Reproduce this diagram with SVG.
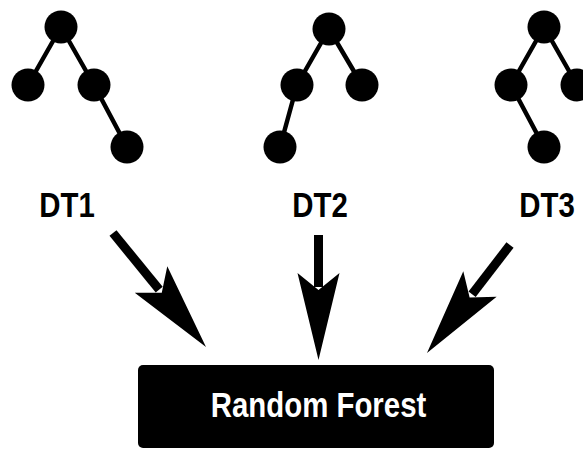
<svg xmlns="http://www.w3.org/2000/svg" width="583" height="449" viewBox="0 0 583 449">
<style>
.edge{stroke:#000;stroke-width:4.5;stroke-linecap:round}
.dot{fill:#000}
.lbl{font-family:"Liberation Sans",Arial,sans-serif;font-weight:bold;font-size:35px;fill:#000}
.shaft{stroke:#000;stroke-width:9;fill:none}
.title{font-family:"Liberation Sans",Arial,sans-serif;font-weight:bold;font-size:35px;fill:#fff}
</style>
<defs>
<path id="head" d="M0,0 L-87,-21 L-70,0 L-87,21 Z" fill="#000"/>
</defs>
<rect width="583" height="449" fill="#fff"/>
<g id="tree1">
<line class="edge" x1="61" y1="27" x2="28" y2="85"/>
<line class="edge" x1="61" y1="27" x2="94" y2="85"/>
<line class="edge" x1="94" y1="85" x2="127" y2="147"/>
<circle class="dot" cx="61" cy="27" r="16.5"/>
<circle class="dot" cx="28" cy="85" r="16.5"/>
<circle class="dot" cx="94" cy="85" r="16.5"/>
<circle class="dot" cx="127" cy="147" r="16.5"/>
<text class="lbl" text-anchor="middle" transform="translate(67,217) scale(0.84,1)">DT1</text>
</g>
<g id="tree2">
<line class="edge" x1="329" y1="29" x2="297" y2="85"/>
<line class="edge" x1="329" y1="29" x2="362" y2="85"/>
<line class="edge" x1="297" y1="85" x2="280" y2="147"/>
<circle class="dot" cx="329" cy="29" r="16.5"/>
<circle class="dot" cx="297" cy="85" r="16.5"/>
<circle class="dot" cx="362" cy="85" r="16.5"/>
<circle class="dot" cx="280" cy="147" r="16.5"/>
<text class="lbl" text-anchor="middle" transform="translate(320,217) scale(0.84,1)">DT2</text>
</g>
<g id="tree3">
<line class="edge" x1="544" y1="27" x2="511" y2="85"/>
<line class="edge" x1="544" y1="27" x2="577" y2="85"/>
<line class="edge" x1="511" y1="85" x2="544" y2="147"/>
<circle class="dot" cx="544" cy="27" r="16.5"/>
<circle class="dot" cx="511" cy="85" r="16.5"/>
<circle class="dot" cx="577" cy="85" r="16.5"/>
<circle class="dot" cx="544" cy="147" r="16.5"/>
<text class="lbl" text-anchor="middle" transform="translate(547,217) scale(0.84,1)">DT3</text>
</g>
<g id="connectors">
<line class="shaft" x1="113" y1="233" x2="159.2" y2="289.6"/>
<use href="#head" transform="translate(206,347) rotate(50.8)"/>
<line class="shaft" x1="318.5" y1="235" x2="318.5" y2="287"/>
<use href="#head" transform="translate(318.5,360) rotate(90)"/>
<line class="shaft" x1="510" y1="245" x2="472.1" y2="294.3"/>
<use href="#head" transform="translate(427,353) rotate(127.5)"/>
</g>
<g id="random-forest">
<rect x="138" y="365" width="356" height="83" rx="5" fill="#000"/>
<text class="title" text-anchor="middle" transform="translate(318.5,417) scale(0.84,1)">Random Forest</text>
</g>
</svg>
